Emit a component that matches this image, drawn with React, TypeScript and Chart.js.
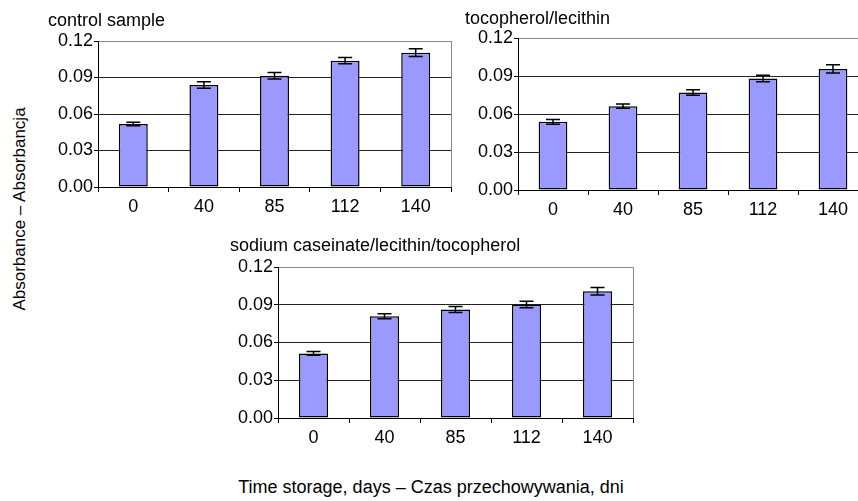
import React, { useEffect, useRef } from 'react';
import { Chart, registerables } from 'chart.js';

Chart.register(...registerables);

const FONT = "'Liberation Sans', Arial, Helvetica, sans-serif";

const categories = ['0', '40', '85', '112', '140'];
const yTickValues = [0, 0.03, 0.06, 0.09, 0.12];

const controlValues = [0.0518, 0.0838, 0.0915, 0.1038, 0.1104];
const controlErrors = [0.0015, 0.0027, 0.0027, 0.0026, 0.0032];

const tocLecValues = [0.0538, 0.0662, 0.077, 0.088, 0.0956];
const tocLecErrors = [0.0019, 0.0016, 0.0021, 0.0026, 0.0032];

const caseinateValues = [0.0513, 0.0809, 0.0862, 0.0902, 0.1008];
const caseinateErrors = [0.0015, 0.002, 0.0024, 0.0025, 0.003];

const titleControl = 'control sample';
const titleTocLec = 'tocopherol/lecithin';
const titleCaseinate = 'sodium caseinate/lecithin/tocopherol';
const yTitle = 'Absorbance – Absorbancja';
const xTitle = 'Time storage, days – Czas przechowywania, dni';

const PADL = 50;
const PADT = 15;
const PADR = 10;
const PADB = 36;

function errorBarPlugin(errors: number[]) {
  return {
    id: 'errorBars',
    afterDatasetsDraw(chart: any) {
      const ctx = chart.ctx;
      const meta = chart.getDatasetMeta(0);
      const yScale = chart.scales.y;
      const vals = chart.data.datasets[0].data as number[];
      ctx.save();
      ctx.strokeStyle = '#000';
      ctx.lineWidth = 1.5;
      meta.data.forEach((bar: any, i: number) => {
        const x = bar.x;
        const yt = yScale.getPixelForValue(vals[i] + errors[i]);
        const yb = yScale.getPixelForValue(vals[i] - errors[i]);
        ctx.beginPath();
        ctx.moveTo(x, yt);
        ctx.lineTo(x, yb);
        ctx.moveTo(x - 7, yt);
        ctx.lineTo(x + 7, yt);
        ctx.moveTo(x - 7, yb);
        ctx.lineTo(x + 7, yb);
        ctx.stroke();
      });
      ctx.restore();
    },
  };
}

const framePlugin = {
  id: 'frame',
  beforeDatasetsDraw(chart: any) {
    const { ctx, chartArea } = chart;
    ctx.save();
    ctx.strokeStyle = '#888';
    ctx.lineWidth = 1;
    ctx.beginPath();
    const x = Math.round(chartArea.right) + 0.5;
    ctx.moveTo(x, chartArea.top);
    ctx.lineTo(x, chartArea.bottom);
    ctx.stroke();
    ctx.restore();
  },
};

type PanelProps = {
  left: number;
  top: number;
  plotW: number;
  plotH: number;
  values: number[];
  errors: number[];
};

function Panel({ left, top, plotW, plotH, values, errors }: PanelProps) {
  const ref = useRef<HTMLCanvasElement | null>(null);
  const w = PADL + plotW + PADR;
  const h = PADT + plotH + PADB;

  useEffect(() => {
    if (!ref.current) return;
    const chart = new Chart(ref.current, {
      type: 'bar',
      data: {
        labels: categories,
        datasets: [
          {
            data: values,
            backgroundColor: '#9999FF',
            borderColor: '#000',
            borderWidth: 1.5,
            borderSkipped: false,
            barPercentage: 0.41,
            categoryPercentage: 1,
          },
        ],
      },
      options: {
        responsive: false,
        animation: false,
        devicePixelRatio: 1,
        layout: { padding: { top: PADT, right: PADR, left: 0, bottom: 0 } },
        plugins: {
          legend: { display: false },
          tooltip: { enabled: false },
          title: { display: false },
        },
        scales: {
          x: {
            border: { color: '#000', width: 1 },
            grid: {
              offset: true,
              drawOnChartArea: false,
              drawTicks: true,
              tickLength: 5,
              tickColor: '#000',
            },
            ticks: {
              font: { family: FONT, size: 18 },
              color: '#000',
              padding: 4,
              maxRotation: 0,
              autoSkip: false,
            },
            afterFit: (s: any) => {
              s.height = PADB;
            },
          },
          y: {
            min: 0,
            max: 0.12,
            border: { color: '#000', width: 1 },
            grid: {
              drawTicks: true,
              tickLength: 4,
              tickColor: '#000',
              color: (c: any) =>
                c.tick && c.tick.value === 0.12
                  ? '#888'
                  : c.tick && c.tick.value === 0
                  ? 'rgba(0,0,0,0)'
                  : '#222',
            },
            ticks: {
              font: { family: FONT, size: 18 },
              color: '#000',
              padding: 1,
              callback: (v: any) => Number(v).toFixed(2),
            },
            afterBuildTicks: (s: any) => {
              s.ticks = yTickValues.map((v) => ({ value: v }));
            },
            afterFit: (s: any) => {
              s.width = PADL;
            },
          },
        },
      },
      plugins: [errorBarPlugin(errors), framePlugin],
    } as any);
    return () => chart.destroy();
  }, []);

  return (
    <canvas
      ref={ref}
      width={w}
      height={h}
      style={{ position: 'absolute', left: left - PADL, top: top - PADT, width: w, height: h }}
    />
  );
}

const textStyle: React.CSSProperties = {
  position: 'absolute',
  fontFamily: FONT,
  fontSize: 18,
  lineHeight: '22px',
  color: '#000',
  whiteSpace: 'nowrap',
};

export default function App() {
  return (
    <div
      style={{
        position: 'absolute',
        left: 0,
        top: 0,
        width: 858,
        height: 501,
        overflow: 'hidden',
        background: '#fff',
      }}
    >
      <Panel left={98} top={41} plotW={353} plotH={146} values={controlValues} errors={controlErrors} />
      <Panel left={518} top={38} plotW={350} plotH={152} values={tocLecValues} errors={tocLecErrors} />
      <Panel left={278} top={267} plotW={355} plotH={151} values={caseinateValues} errors={caseinateErrors} />

      <div style={{ ...textStyle, left: 48, top: 9 }}>{titleControl}</div>
      <div style={{ ...textStyle, left: 465, top: 7 }}>{titleTocLec}</div>
      <div style={{ ...textStyle, left: 230, top: 234 }}>{titleCaseinate}</div>

      <div
        style={{
          ...textStyle,
          fontSize: 17,
          left: 20,
          top: 209,
          transform: 'translate(-50%, -50%) rotate(-90deg)',
        }}
      >
        {yTitle}
      </div>
      <div style={{ ...textStyle, left: 431, top: 487, transform: 'translate(-50%, -50%)' }}>{xTitle}</div>
    </div>
  );
}
